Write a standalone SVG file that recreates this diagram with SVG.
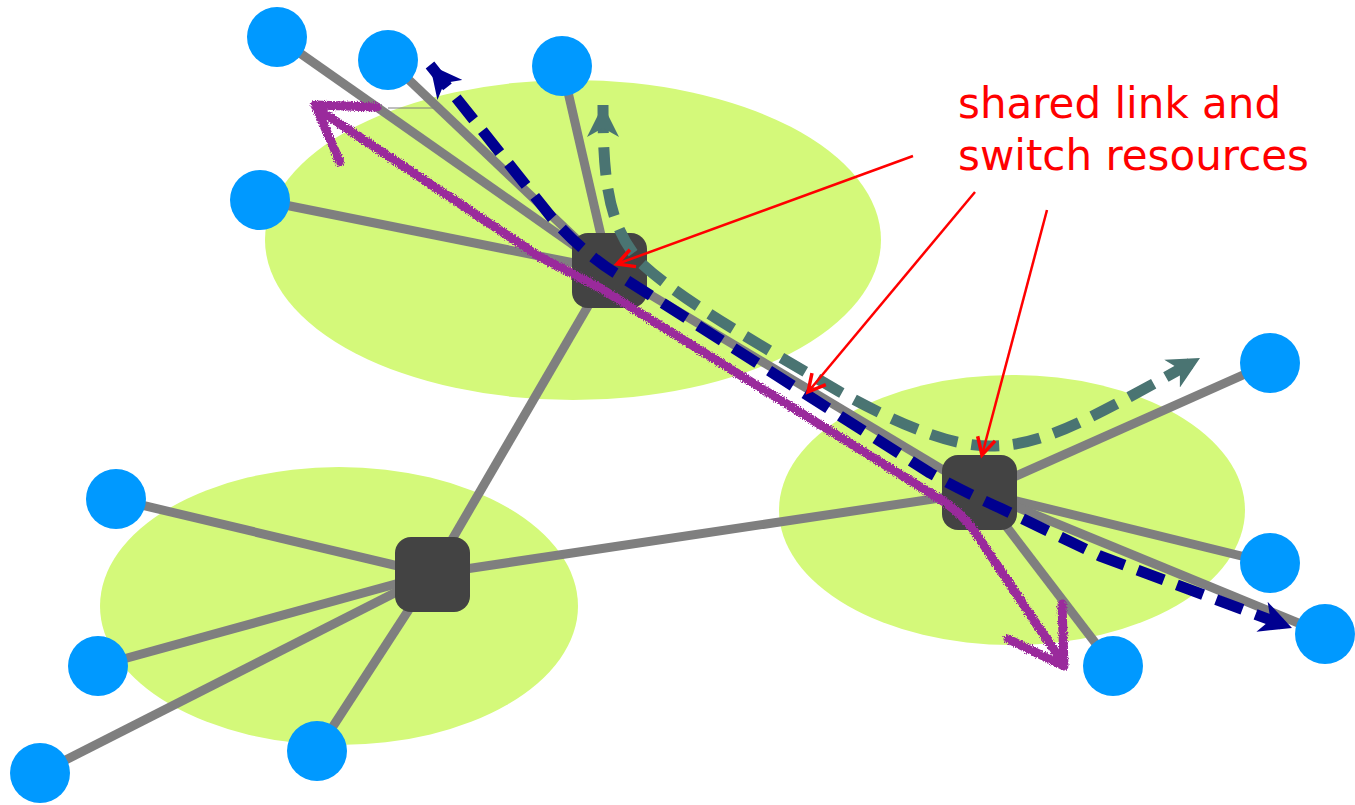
<svg xmlns="http://www.w3.org/2000/svg" width="1355" height="805" viewBox="0 0 1355 805">
<style>
.zone{fill:#d4f97a}
.link{stroke:#7f7f7f;stroke-width:9;stroke-linecap:butt;fill:none}
.sw{fill:#434343}
.host{fill:#0099ff}
.blue{stroke:#000090;stroke-width:11;fill:none;stroke-dasharray:28 14}
.teal{stroke:#4a7472;stroke-width:11;fill:none;stroke-dasharray:28 14}
.purple{stroke:#9a2a9c;stroke-width:9;fill:none;stroke-linecap:round;stroke-linejoin:round}
.red{stroke:#ff0000;stroke-width:2.5;fill:none}
.lbl{font-family:"DejaVu Sans","Verdana",sans-serif;font-size:42px;fill:#ff0000}
</style>
<defs>
<marker id="ab" markerUnits="userSpaceOnUse" viewBox="0 0 32 32" refX="32" refY="16" markerWidth="32" markerHeight="32" orient="auto-start-reverse">
<path d="M0,0 L32,16 L0,32 L9,16 Z" fill="#000090"/>
</marker>
<marker id="at" markerUnits="userSpaceOnUse" viewBox="0 0 32 32" refX="32" refY="16" markerWidth="32" markerHeight="32" orient="auto-start-reverse">
<path d="M0,0 L32,16 L0,32 L9,16 Z" fill="#4a7472"/>
</marker>
<marker id="ar" markerUnits="userSpaceOnUse" viewBox="-2 -2 22 22" refX="17" refY="9" markerWidth="22" markerHeight="22" orient="auto" overflow="visible">
<path d="M0,0 L17,9 L0,18" fill="none" stroke="#ff0000" stroke-width="3.5"/>
</marker>
<filter id="rough" x="-5%" y="-5%" width="110%" height="110%">
<feTurbulence type="fractalNoise" baseFrequency="0.9" numOctaves="2" seed="3" result="n"/>
<feDisplacementMap in="SourceGraphic" in2="n" scale="5" xChannelSelector="R" yChannelSelector="G"/>
</filter>
</defs>

<g id="zones">
<ellipse class="zone" cx="573" cy="240" rx="308" ry="160"/>
<ellipse class="zone" cx="339" cy="606" rx="239" ry="139"/>
<ellipse class="zone" cx="1012" cy="510" rx="233" ry="135"/>
</g>

<g id="connectors">
<line class="link" x1="609" y1="270" x2="277" y2="37"/>
<line class="link" x1="609" y1="270" x2="388" y2="60"/>
<line class="link" x1="609" y1="270" x2="562" y2="66"/>
<line class="link" x1="609" y1="270" x2="260" y2="200"/>
<line class="link" x1="609" y1="270" x2="432" y2="574"/>
<line class="link" x1="609" y1="270" x2="980" y2="492"/>
<line class="link" x1="980" y1="492" x2="1270" y2="363"/>
<line class="link" x1="980" y1="492" x2="1270" y2="563"/>
<line class="link" x1="980" y1="492" x2="1325" y2="634"/>
<line class="link" x1="980" y1="492" x2="1113" y2="666"/>
<line class="link" x1="980" y1="492" x2="432" y2="574"/>
<line class="link" x1="432" y1="574" x2="116" y2="499"/>
<line class="link" x1="432" y1="574" x2="98" y2="666"/>
<line class="link" x1="432" y1="574" x2="40" y2="773"/>
<line class="link" x1="432" y1="574" x2="317" y2="751"/>
<line x1="388" y1="108" x2="437" y2="108" stroke="#7f7f7f" stroke-width="1"/>
</g>

<g id="switch-top"><rect class="sw" x="572" y="233" width="75" height="75" rx="16"/></g>
<g id="switch-right"><rect class="sw" x="942" y="455" width="75" height="75" rx="16"/></g>
<g id="switch-left"><rect class="sw" x="395" y="537" width="75" height="75" rx="16"/></g>

<g id="host-t1"><circle class="host" cx="277" cy="37" r="30"/></g>
<g id="host-t2"><circle class="host" cx="388" cy="60" r="30"/></g>
<g id="host-t3"><circle class="host" cx="562" cy="66" r="30"/></g>
<g id="host-t4"><circle class="host" cx="260" cy="200" r="30"/></g>
<g id="host-r1"><circle class="host" cx="1270" cy="363" r="30"/></g>
<g id="host-r2"><circle class="host" cx="1270" cy="563" r="30"/></g>
<g id="host-r3"><circle class="host" cx="1325" cy="634" r="30"/></g>
<g id="host-r4"><circle class="host" cx="1113" cy="666" r="30"/></g>
<g id="host-l1"><circle class="host" cx="116" cy="499" r="30"/></g>
<g id="host-l2"><circle class="host" cx="98" cy="666" r="30"/></g>
<g id="host-l3"><circle class="host" cx="40" cy="773" r="30"/></g>
<g id="host-l4"><circle class="host" cx="317" cy="751" r="30"/></g>

<g id="flows">
<g filter="url(#rough)">
<path class="purple" d="M322,112 L540,257 L600,288 L930,493 Q960,510 975,532 L1058,656"/>
<path class="purple" stroke-width="11" d="M377,107 L315,105 L340,162"/>
<path class="purple" stroke-width="11" d="M1008,639 L1064,666 L1062,604"/>
</g>
<path class="blue" stroke-linejoin="round" d="M430,65 L552,218 Q585,255 620,276 L930,473 Q960,490 1000,508 L1100,556 L1292,628" marker-start="url(#ab)" marker-end="url(#ab)"/>
<path class="teal" d="M603,105 C603,180 608,225 640,262 C680,300 760,345 840,392 C900,425 950,446 990,446 C1040,446 1080,425 1200,358" marker-start="url(#at)" marker-end="url(#at)"/>
</g>

<g id="callouts">
<line class="red" x1="913" y1="156" x2="617" y2="264" marker-end="url(#ar)"/>
<line class="red" x1="975" y1="192" x2="808" y2="392" marker-end="url(#ar)"/>
<line class="red" x1="1047" y1="210" x2="982" y2="455" marker-end="url(#ar)"/>
<text class="lbl" x="958" y="118">shared link and</text>
<text class="lbl" x="958" y="170">switch resources</text>
</g>
</svg>
